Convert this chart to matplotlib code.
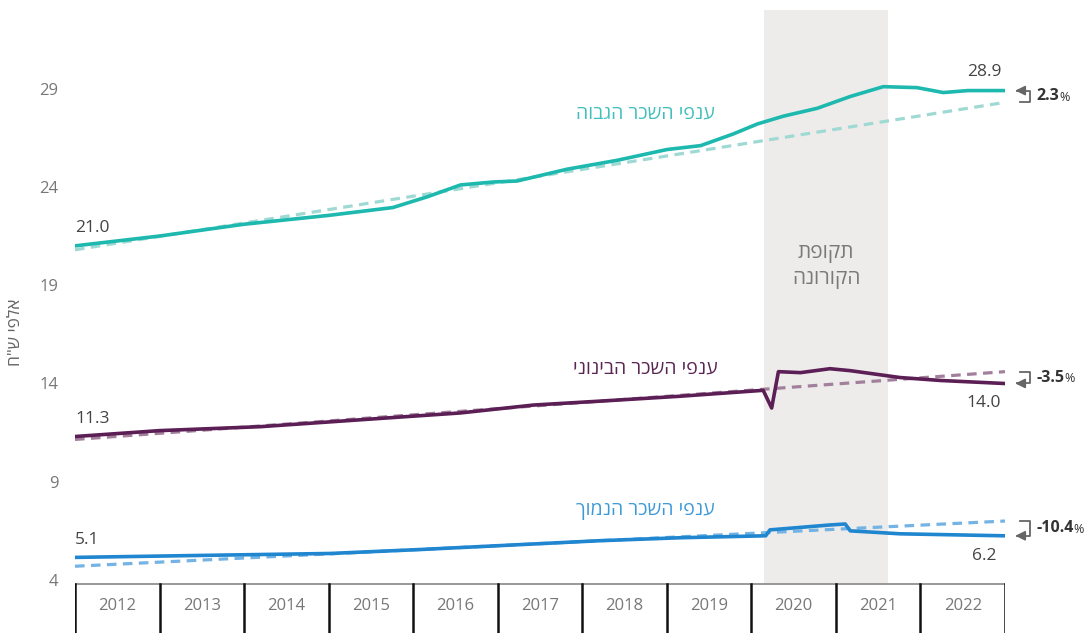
import numpy as np
import matplotlib
matplotlib.use("Agg")
import matplotlib.pyplot as plt

plt.rcParams['font.family'] = ['Open Sans', 'DejaVu Sans']

# --- data (thousand NIS) ---
high_years = [2012.0, 2013.0, 2014.0, 2015.0, 2015.76, 2016.17, 2016.56, 2016.95, 2017.23,
              2017.82, 2018.41, 2019.0, 2019.4, 2019.79, 2020.07, 2020.38, 2020.78, 2021.17,
              2021.56, 2021.96, 2022.27, 2022.56, 2022.98]
high_vals = [21.0, 21.5, 22.1, 22.55, 22.95, 23.5, 24.1, 24.25, 24.3,
             24.9, 25.35, 25.9, 26.1, 26.7, 27.2, 27.6, 28.0, 28.6,
             29.1, 29.05, 28.8, 28.9, 28.9]
high_trend = [20.8, 28.3]

mid_years = [2012.0, 2013.0, 2014.19, 2015.37, 2016.56, 2017.42, 2018.21, 2019.16, 2020.14,
             2020.24, 2020.32, 2020.58, 2020.93, 2021.17, 2021.76, 2022.24, 2022.98]
mid_vals = [11.3, 11.6, 11.8, 12.15, 12.5, 12.9, 13.1, 13.35, 13.65,
            12.75, 14.6, 14.55, 14.75, 14.65, 14.3, 14.15, 14.0]
mid_trend = [11.15, 14.6]

low_years = [2012.0, 2013.48, 2015.02, 2016.08, 2017.03, 2018.21, 2019.16, 2020.17,
             2020.22, 2020.93, 2021.11, 2021.17, 2021.76, 2022.98]
low_vals = [5.15, 5.25, 5.35, 5.55, 5.75, 6.0, 6.15, 6.25,
            6.55, 6.8, 6.85, 6.5, 6.35, 6.25]
low_trend = [4.7, 7.0]

trend_years = [2012.0, 2023.0]
year_labels = [str(y) for y in range(2012, 2023)]
yticks = [4, 9, 14, 19, 24, 29]
covid = [2020.15, 2021.62]

start_labels = ['21.0', '11.3', '5.1']
end_labels = ['28.9', '14.0', '6.2']
pct_labels = ['2.3', '-3.5', '-10.4']
series_names = ['ענפי השכר הגבוה', 'ענפי השכר הבינוני', 'ענפי השכר הנמוך']


def heb(s):
    # matplotlib has no bidi support: flip Hebrew for display
    return s[::-1]


fig = plt.figure(figsize=(10.9, 6.33), dpi=100)
ax = fig.add_axes([75 / 1090, 53 / 633, 930 / 1090, 570 / 633])
ax.set_xlim(2012, 2023)
ax.set_ylim(4, 33)
for s in ax.spines.values():
    s.set_visible(False)
ax.set_xticks([])
ax.set_yticks(yticks)
ax.tick_params(axis='y', length=0, pad=12, labelsize=12, labelcolor='#777777')

ax.axvspan(covid[0], covid[1], color='#eeeceb', zorder=0, lw=0)
ax.text(sum(covid) / 2, 20.0, heb('תקופת') + '\n' + heb('הקורונה'), ha='center', va='center',
        fontsize=15, color='#7a7a7a', linespacing=1.3)

series = [
    (high_years, high_vals, high_trend, '#1db8ae', '#9fd9d4', '#40c0bd', 27.75, 1),
    (mid_years, mid_vals, mid_trend, '#5b1f55', '#a2809c', '#5a2552', 14.75, -1),
    (low_years, low_vals, low_trend, '#1f86cf', '#74b3e3', '#3d9ad8', 7.5, -1),
]

for i, (xs, ys, tr, col, tcol, lcol, ylab, side) in enumerate(series):
    ax.plot(trend_years, tr, color=tcol, lw=2.3, ls=(0, (3, 2)), zorder=2, solid_capstyle='round')
    ax.plot(xs, ys, color=col, lw=2.6, zorder=3, solid_joinstyle='round')
    ax.text(2018.75, ylab, heb(series_names[i]), ha='center', va='center', fontsize=14, color=lcol)
    # start / end values
    ax.text(2012.0, ys[0] + 0.5, start_labels[i], ha='left', va='bottom', fontsize=12.5, color='#444444')
    if side > 0:
        ax.text(2022.75, ys[-1] + 0.55, end_labels[i], ha='center', va='bottom', fontsize=12.5, color='#444444')
    else:
        ax.text(2022.75, ys[-1] - 0.6, end_labels[i], ha='center', va='top', fontsize=12.5, color='#444444')
    # bracket arrow between actual end and trend end
    ya, yt = ys[-1], tr[-1]
    xt, xb, xs2 = 2023.09, 2023.3, 2023.18
    ax.plot([xt + 0.05, xb, xb, xs2], [ya, ya, yt, yt], color='#666666', lw=1.3, clip_on=False)
    ax.annotate('', xy=(xt, ya), xytext=(xt + 0.12, ya),
                arrowprops=dict(arrowstyle='-|>', color='#666666', lw=1.3, mutation_scale=14),
                annotation_clip=False)
    t = ax.text(2023.37, (ya + yt) / 2, pct_labels[i], ha='left', va='center',
                fontsize=11.5, fontweight='bold', color='#333333', clip_on=False)
    ax.annotate('%', xy=(1.0, 0.42), xycoords=t, ha='left', va='center',
                fontsize=9, color='#333333', annotation_clip=False)

ax.text(2011.3, 16.6, heb('אלפי ש"ח'), rotation=90, ha='center', va='center',
        fontsize=12.5, color='#666666')

# year boxes below the chart
bx = fig.add_axes([75 / 1090, 0, 930 / 1090, 53 / 633])
bx.set_xlim(2012, 2023)
bx.set_ylim(0, 1)
bx.axis('off')
bx.axvspan(covid[0], covid[1], ymin=0.92, ymax=1.0, color='#eeeceb', lw=0)
bx.plot([2012, 2023], [0.92, 0.92], color='#888888', lw=1.2)
for k in range(len(year_labels) + 1):
    bx.plot([2012 + k, 2012 + k], [0, 0.92], color='#111111', lw=1.8)
for k, lab in enumerate(year_labels):
    bx.text(2012.5 + k, 0.5, lab, ha='center', va='center', fontsize=12, color='#777777')

fig.savefig('out.png', dpi=100)
